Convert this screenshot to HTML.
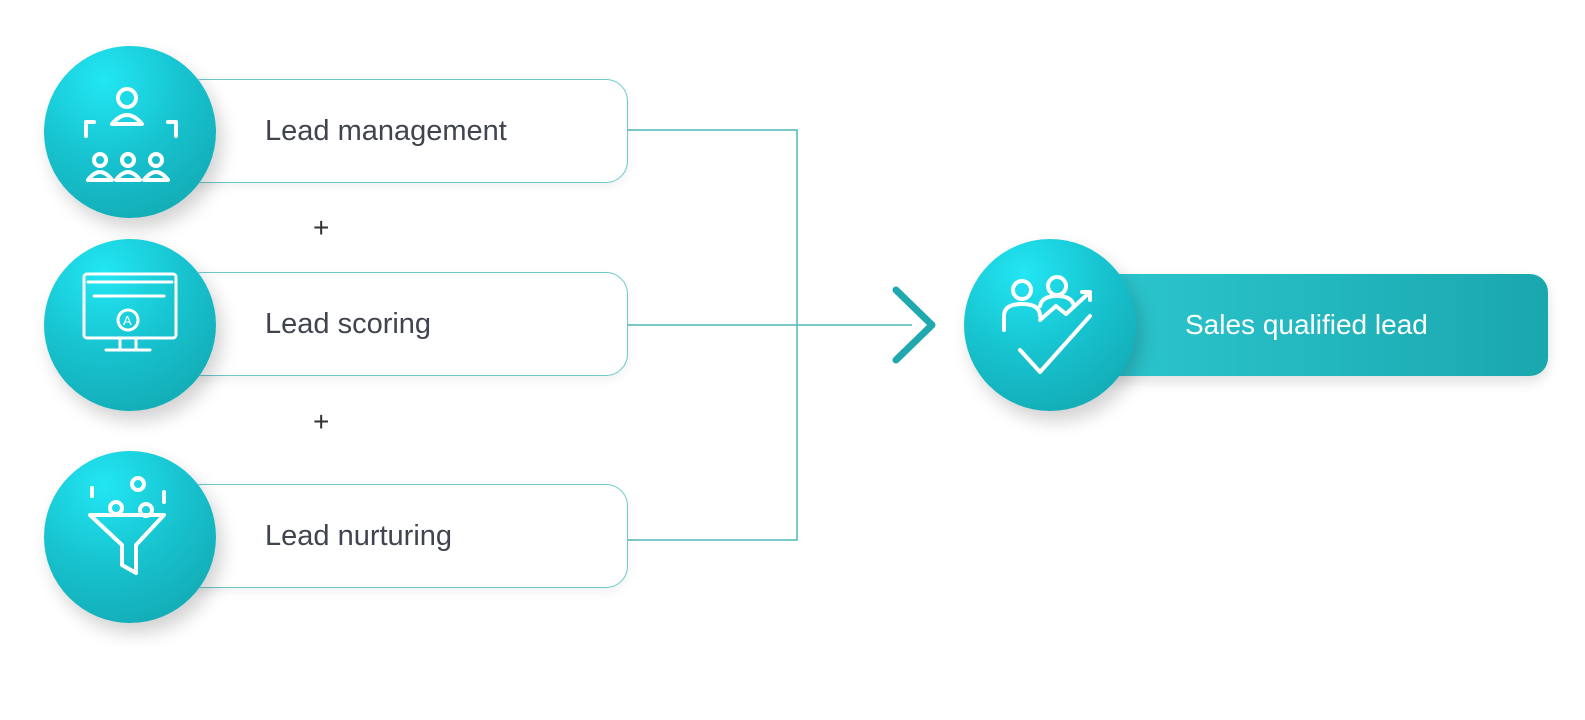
<!DOCTYPE html>
<html><head><meta charset="utf-8"><style>
body{margin:0;width:1585px;height:720px;background:#fff;overflow:hidden;font-family:"Liberation Sans",sans-serif;position:relative}
.box{position:absolute;left:180px;width:446px;height:102px;border:1.5px solid #6cc9cc;border-radius:22px;background:#fff;box-shadow:0 4px 10px rgba(0,0,0,.06)}
.lbl{position:absolute;left:265px;font-size:29px;color:#40444f}
.circ{position:absolute;width:172px;height:172px;border-radius:50%;background:radial-gradient(circle at 35% 20%,#22e6f3 0%,#17c3cf 45%,#11a2ab 100%);box-shadow:6px 10px 18px rgba(0,0,0,.18)}
.plus{position:absolute;left:313px;font-size:28px;color:#333}
svg.ic{position:absolute;left:0;top:0}
</style></head><body>
<svg width="1585" height="720" style="position:absolute;left:0;top:0">
<polyline points="628,130 797,130 797,540 628,540" fill="none" stroke="#4fb8bb" stroke-width="1.5"/>
<line x1="628" y1="325" x2="912" y2="325" stroke="#4fb8bb" stroke-width="1.5"/>
<polyline points="896,290 932,325 896,360" fill="none" stroke="#1fa9ae" stroke-width="7" stroke-linecap="round" stroke-linejoin="round"/>
</svg>
<div class="box" style="top:79px"></div><div class="lbl" style="top:115px">Lead management</div>
<div class="box" style="top:272px"></div><div class="lbl" style="top:308px">Lead scoring</div>
<div class="box" style="top:484px"></div><div class="lbl" style="top:520px">Lead nurturing</div>
<div class="plus" style="top:212px">+</div>
<div class="plus" style="top:406px">+</div>
<div class="circ" style="left:44px;top:46px"></div>
<div class="circ" style="left:44px;top:239px"></div>
<div class="circ" style="left:44px;top:451px"></div>
<div style="position:absolute;left:1100px;top:274px;width:448px;height:102px;border-radius:18px;background:linear-gradient(90deg,#2cc6ce,#1aa7ae);box-shadow:0 6px 12px rgba(0,0,0,.12)"></div>
<div style="position:absolute;left:1185px;top:309px;font-size:28px;color:#fff">Sales qualified lead</div>
<div class="circ" style="left:964px;top:239px"></div>
<svg class="ic" width="1585" height="720" fill="none" stroke="#fff" stroke-width="4" stroke-linecap="round" stroke-linejoin="round">
<circle cx="127" cy="98" r="9"/><path d="M112 124 q15-18 30 0 z"/>
<path d="M86 136 v-14 h8 M176 136 v-14 h-8"/>
<circle cx="100" cy="160" r="6"/><circle cx="128" cy="160" r="6"/><circle cx="156" cy="160" r="6"/>
<path d="M88 180 q12-16 24 0 z M116 180 q12-16 24 0 z M144 180 q12-16 24 0 z"/>
<rect x="84" y="274" width="92" height="64" rx="3" stroke-width="3"/>
<path d="M88 282 h84 M94 296 h70" stroke-width="3"/>
<circle cx="128" cy="320" r="10" stroke-width="3"/>
<text x="123" y="325" fill="#fff" stroke="none" font-size="13" font-family="Liberation Sans">A</text>
<path d="M120 338 v12 h-12 M136 338 v12 h12 M106 350 h44" stroke-width="3"/>
<path d="M90 515 h74 l-28 30 v28 l-14 -8 v-20 z"/>
<circle cx="138" cy="484" r="6"/><circle cx="116" cy="508" r="6"/><circle cx="146" cy="510" r="6"/>
<path d="M92 488 v8 M164 492 v10"/>
<circle cx="1022" cy="290" r="9"/><circle cx="1057" cy="286" r="9"/>
<path d="M1004 330 v-14 q0-12 18-12 q18 0 18 12 M1040 306 q2-10 17-10 q15 0 17 10"/>
<path d="M1040 320 l16-14 l10 8 l24-22 M1082 292 h8 v8"/>
<path d="M1020 350 l20 22 l50-56"/>
</svg>
</body></html>
